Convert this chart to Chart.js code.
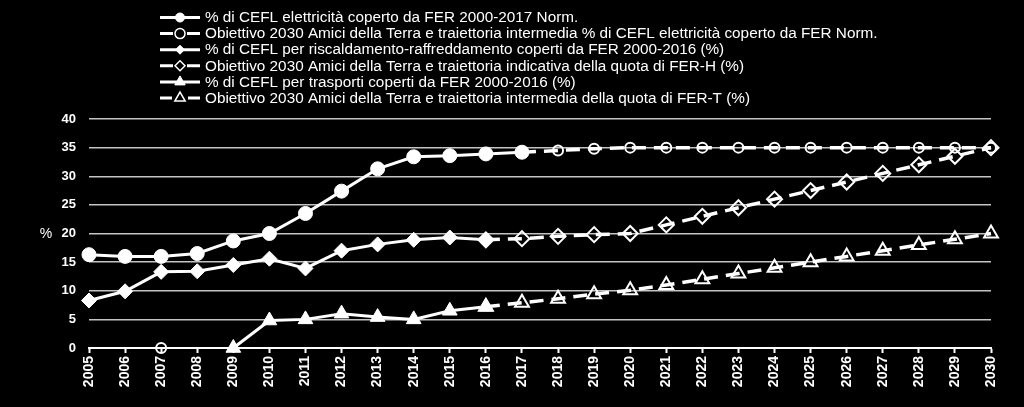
<!DOCTYPE html>
<html lang="it">
<head>
<meta charset="utf-8">
<title>Quote FER 2005-2030</title>
<script src="https://cdn.jsdelivr.net/npm/chart.js@4/dist/chart.umd.min.js"></script>
<style>
  html, body { margin: 0; padding: 0; background: #000; }
  #wrap { width: 1024px; height: 407px; }
</style>
</head>
<body>
<div id="wrap"><canvas id="fer" width="1024" height="407"></canvas></div>
<script>
// Categories
const years = ['2005', '2006', '2007', '2008', '2009', '2010', '2011', '2012', '2013',
  '2014', '2015', '2016', '2017', '2018', '2019', '2020', '2021', '2022', '2023',
  '2024', '2025', '2026', '2027', '2028', '2029', '2030'];

// Series values (null = no value for that year)
const elecActual = [16.3, 16.0, 16.0, 16.5, 18.7, 20.0, 23.5, 27.4, 31.3, 33.4, 33.6, 33.9, 34.2,
  null, null, null, null, null, null, null, null, null, null, null, null, null];
const elecTarget = [null, null, 0, null, null, null, null, null, null, null, null, null, 34.2,
  34.5, 34.8, 35, 35, 35, 35, 35, 35, 35, 35, 35, 35, 35];
const heatActual = [8.3, 9.9, 13.3, 13.4, 14.5, 15.6, 13.9, 17.0, 18.1, 18.9, 19.3, 18.9,
  null, null, null, null, null, null, null, null, null, null, null, null, null, null];
const heatTarget = [null, null, null, null, null, null, null, null, null, null, null, 18.9,
  19.1, 19.5, 19.8, 20.0, 21.5, 23.0, 24.5, 26.0, 27.5, 29.0, 30.5, 32.0, 33.5, 35.0];
const transActual = [null, null, null, null, 0, 4.8, 5.0, 6.0, 5.4, 5.0, 6.5, 7.2,
  null, null, null, null, null, null, null, null, null, null, null, null, null, null];
const transTarget = [null, null, null, null, null, null, null, null, null, null, null, 7.2,
  7.9, 8.6, 9.4, 10.1, 11.0, 12.0, 13.0, 14.0, 15.0, 16.0, 17.0, 18.0, 19.0, 20.0];

// Legend texts
const seriesLabels = [
  '% di CEFL elettricità coperto da FER 2000-2017 Norm.',
  'Obiettivo 2030 Amici della Terra e traiettoria intermedia % di CEFL elettricità coperto da FER Norm.',
  '% di CEFL per riscaldamento-raffreddamento coperti da FER 2000-2016 (%)',
  'Obiettivo 2030 Amici della Terra e traiettoria indicativa della quota di FER-H (%)',
  '% di CEFL per trasporti coperti da FER 2000-2016 (%)',
  'Obiettivo 2030 Amici della Terra e traiettoria intermedia della quota di FER-T (%)'
];

// Y axis
const yMin = 0;
const yMax = 40;
const yStep = 5;
const yTitle = '%';

const WHITE = '#ffffff';
const FONT = '"Liberation Sans", Arial, sans-serif';

function solid(label, data, style, radius) {
  return {
    label, data,
    borderColor: WHITE,
    borderWidth: 3,
    pointStyle: style,
    pointRadius: radius,
    pointBackgroundColor: WHITE,
    pointBorderColor: WHITE,
    pointBorderWidth: 1,
    spanGaps: false,
    tension: 0,
    clip: false
  };
}

function dashed(label, data, style, radius) {
  return {
    label, data,
    borderColor: WHITE,
    borderWidth: 3.5,
    borderDash: [14, 8],
    pointStyle: style,
    pointRadius: radius,
    pointBackgroundColor: 'rgba(0,0,0,0)',
    pointBorderColor: WHITE,
    pointBorderWidth: 2,
    spanGaps: false,
    tension: 0,
    clip: false
  };
}

// legend drawn by hand so each entry shows line + marker
const legendRadius = [4.5, 5, 4.5, 5, 6, 6];
const legendPlugin = {
  id: 'lineLegend',
  afterDraw(chart) {
    const ctx = chart.ctx;
    ctx.save();
    ctx.font = '15.3px ' + FONT;
    ctx.textBaseline = 'middle';
    ctx.fillStyle = WHITE;
    ctx.strokeStyle = WHITE;
    chart.data.datasets.forEach((ds, i) => {
      const y = 17.5 + i * 16.1;
      const open = !!ds.borderDash;
      const r = legendRadius[i];
      ctx.lineWidth = 3;
      ctx.setLineDash([]);
      ctx.beginPath();
      if (open) {
        ctx.moveTo(160, y); ctx.lineTo(180 - r - 2, y);
        ctx.moveTo(180 + r + 2, y); ctx.lineTo(200, y);
      } else {
        ctx.moveTo(160, y); ctx.lineTo(200, y);
      }
      ctx.stroke();
      ctx.lineWidth = open ? 1.5 : 1;
      ctx.fillStyle = open ? 'rgba(0,0,0,0)' : WHITE;
      Chart.helpers.drawPoint(ctx, {
        pointStyle: ds.pointStyle, radius: r, rotation: 0, borderWidth: ctx.lineWidth
      }, 180, y);
      ctx.fillStyle = WHITE;
      ctx.fillText(ds.label, 205, y + 0.5);
    });
    // y title, upright
    ctx.font = '14px ' + FONT;
    ctx.textAlign = 'center';
    ctx.fillText(yTitle, 46, 234);
    ctx.restore();
  }
};

new Chart(document.getElementById('fer'), {
  type: 'line',
  data: {
    labels: years,
    datasets: [
      solid(seriesLabels[0], elecActual, 'circle', 7),
      dashed(seriesLabels[1], elecTarget, 'circle', 5),
      solid(seriesLabels[2], heatActual, 'rectRot', 7.5),
      dashed(seriesLabels[3], heatTarget, 'rectRot', 7.5),
      solid(seriesLabels[4], transActual, 'triangle', 8.5),
      dashed(seriesLabels[5], transTarget, 'triangle', 8)
    ]
  },
  options: {
    responsive: false,
    animation: false,
    events: [],
    layout: { padding: { top: 119, left: 30, right: 33, bottom: 0 } },
    plugins: {
      legend: { display: false },
      tooltip: { enabled: false }
    },
    scales: {
      x: {
        offset: false,
        grid: {
          drawOnChartArea: false,
          drawTicks: true,
          tickLength: 5,
          tickWidth: 2,
          tickColor: WHITE
        },
        border: { display: true, color: WHITE, width: 2 },
        ticks: {
          autoSkip: false,
          minRotation: 90,
          maxRotation: 90,
          padding: 3,
          color: WHITE,
          font: { family: FONT, size: 14, weight: 'bold' }
        },
        afterFit(scale) { scale.height = 59; }
      },
      y: {
        min: yMin,
        max: yMax,
        grid: { color: '#c4c4c4', lineWidth: 1.5, drawTicks: false },
        border: { display: false },
        ticks: {
          stepSize: yStep,
          padding: 13,
          color: WHITE,
          font: { family: FONT, size: 13, weight: 'bold' }
        },
        afterFit(scale) { scale.width = 59; }
      }
    }
  },
  plugins: [legendPlugin]
});
</script>
</body>
</html>
